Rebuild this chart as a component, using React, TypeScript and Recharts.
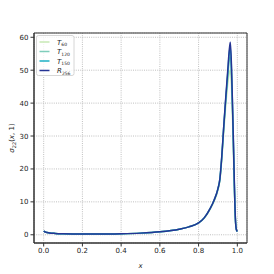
import { LineChart, Line, XAxis, YAxis, CartesianGrid, ReferenceArea } from 'recharts'

const X = [0, 0.01, 0.03, 0.06, 0.1, 0.2, 0.3, 0.4, 0.5, 0.6, 0.7, 0.75, 0.8, 0.83, 0.86, 0.88, 0.9, 0.91, 0.92, 0.93, 0.94, 0.95, 0.96, 0.964, 0.97, 0.975, 0.98, 0.985, 0.99, 0.995, 1.0]
const T60 = [1.1, 0.8, 0.55, 0.4, 0.3, 0.2, 0.2, 0.3, 0.5, 0.9, 1.7, 2.4, 3.6, 5.1, 7.8, 10.2, 13.6, 16.6, 23, 31.5, 39, 45.5, 49.5, 50, 45, 36, 25, 13.5, 4.5, 1.6, 1.0]
const T120 = [1.1, 0.8, 0.55, 0.4, 0.3, 0.2, 0.2, 0.3, 0.5, 0.9, 1.7, 2.4, 3.6, 5.2, 7.9, 10.4, 13.8, 16.8, 23.5, 32.5, 40.5, 47.5, 53.5, 54, 48, 38, 26.5, 14.2, 4.8, 1.6, 1.0]
const T150 = [1.1, 0.8, 0.55, 0.4, 0.3, 0.2, 0.2, 0.3, 0.5, 0.9, 1.7, 2.4, 3.6, 5.2, 8.0, 10.5, 14, 17, 24, 33, 41, 48.5, 56, 57, 50, 39.5, 27.5, 14.8, 5, 1.6, 1.0]
const R256 = [1.1, 0.8, 0.55, 0.4, 0.3, 0.2, 0.2, 0.3, 0.5, 0.9, 1.7, 2.4, 3.6, 5.2, 8.0, 10.5, 14, 17, 24, 33, 41.5, 49.5, 57, 58.5, 51, 40, 28, 15, 5, 1.6, 1.0]

const X_TICKS = [0, 0.2, 0.4, 0.6, 0.8, 1.0]
const Y_TICKS = [0, 10, 20, 30, 40, 50, 60]

const SERIES = [
  { key: 'T60', name: 'T', sub: '60', color: '#c7e9b4' },
  { key: 'T120', name: 'T', sub: '120', color: '#7fcdbb' },
  { key: 'T150', name: 'T', sub: '150', color: '#1db1c4' },
  { key: 'R256', name: 'R', sub: '256', color: '#253494' },
]

const data = X.map((x, i) => ({ x, T60: T60[i], T120: T120[i], T150: T150[i], R256: R256[i] }))

const FONT = '"DejaVu Sans", sans-serif'

function YLabel() {
  return (
    <text x={14} y={138} transform="rotate(-90, 14, 138)" textAnchor="middle" fontSize={7} fill="#222" fontFamily={FONT}>
      <tspan fontStyle="italic">σ</tspan>
      <tspan fontSize={5} dy={1.5}>22</tspan>
      <tspan dy={-1.5}>(</tspan>
      <tspan fontStyle="italic">x</tspan>
      <tspan>, 1)</tspan>
    </text>
  )
}

function LegendBox() {
  return (
    <svg width={40} height={42} style={{ position: 'absolute', left: 36, top: 35 }}>
      <rect x={0.5} y={0.5} width={37.5} height={40} rx={2} fill="rgba(255,255,255,0.8)" stroke="#d6d6d6" />
      {SERIES.map((s, i) => {
        const y = 7 + i * 9.5
        return (
          <g key={s.key}>
            <line x1={3.5} x2={13.5} y1={y} y2={y} stroke={s.color} strokeWidth={1.5} />
            <text x={21} y={y + 2.5} fontSize={7} fill="#222" fontFamily={FONT}>
              <tspan fontStyle="italic">{s.name}</tspan>
              <tspan fontSize={4.5} dy={1.5}>{s.sub}</tspan>
            </text>
          </g>
        )
      })}
    </svg>
  )
}

export default function App() {
  return (
    <div style={{ position: 'absolute', left: 0, top: 0, width: 274, height: 274, background: '#fff' }}>
      <LineChart width={274} height={274} data={data} margin={{ top: 33, right: 27, bottom: 11, left: 0 }}>
        <CartesianGrid stroke="#b0b0b0" strokeDasharray="1 1.2" strokeWidth={0.8} />
        <XAxis
          dataKey="x"
          type="number"
          domain={[-0.05, 1.05]}
          ticks={X_TICKS}
          tickFormatter={(v) => v.toFixed(1)}
          height={20}
          tickSize={3.5}
          stroke="#333"
          tick={{ fontSize: 7, fill: '#222', fontFamily: FONT }}
          allowDataOverflow
          label={{ value: 'x', position: 'insideBottom', offset: -5, fontSize: 7, fontStyle: 'italic', fill: '#222', fontFamily: FONT }}
        />
        <YAxis
          type="number"
          domain={[-2.5, 61.3]}
          ticks={Y_TICKS}
          width={34}
          tickSize={3.5}
          stroke="#333"
          tick={{ fontSize: 7, fill: '#222', fontFamily: FONT }}
          allowDataOverflow
          label={<YLabel />}
        />
        <ReferenceArea x1={-0.05} x2={1.05} y1={-2.5} y2={61.3} fill="none" stroke="#333" strokeWidth={1} />
        {SERIES.map((s) => (
          <Line key={s.key} dataKey={s.key} type="monotone" stroke={s.color} strokeWidth={1.5} dot={false} isAnimationActive={false} />
        ))}
      </LineChart>
      <LegendBox />
    </div>
  )
}
